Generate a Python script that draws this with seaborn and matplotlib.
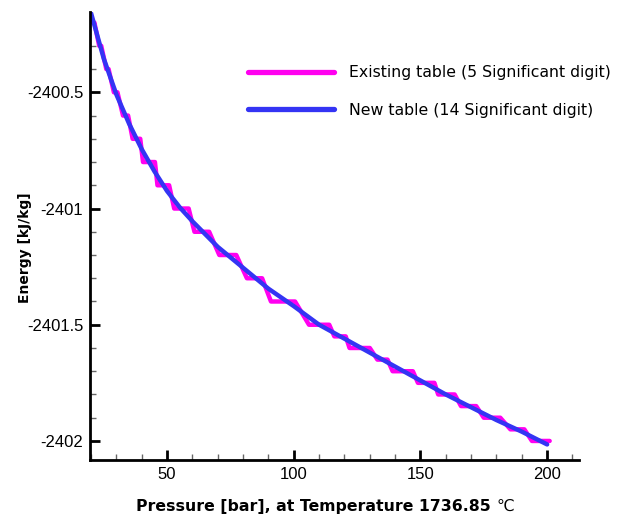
import matplotlib
matplotlib.use("Agg")
import matplotlib.pyplot as plt
from matplotlib.ticker import MultipleLocator, FixedLocator, FixedFormatter
import pandas as pd
import seaborn as sns

# New table (14 significant digits)
pressure_new = [20, 25, 30, 35, 40, 45, 50, 55, 60, 70, 80, 90, 100,
                110, 120, 130, 140, 150, 160, 170, 180, 190, 200]
energy_new = [-2400.16, -2400.355, -2400.51, -2400.635, -2400.745, -2400.84,
              -2400.925, -2400.995, -2401.055, -2401.165, -2401.255, -2401.345,
              -2401.42, -2401.50, -2401.56, -2401.62, -2401.68, -2401.74,
              -2401.80, -2401.855, -2401.91, -2401.96, -2402.015]

# Existing table (5 significant digits): each flat step and its pressure span
levels_old = [-2400.2, -2400.3, -2400.4, -2400.5, -2400.6, -2400.7, -2400.8,
              -2400.9, -2401.0, -2401.1, -2401.2, -2401.3, -2401.4, -2401.5,
              -2401.55, -2401.6, -2401.65, -2401.7, -2401.75, -2401.8,
              -2401.85, -2401.9, -2401.95, -2402.0]
step_start = [20.8, 23.2, 26.0, 29.0, 32.6, 36.4, 40.5, 46.2, 52.8, 60.8, 70.6,
              81.5, 91, 106, 116, 122, 133, 139, 149, 157, 166, 175, 185.5, 194]
step_end = [21.3, 24.0, 26.9, 30.4, 34.6, 39.4, 45.2, 50.8, 58.5, 66.6, 77.3,
            87.5, 100.5, 114, 120.5, 130, 137, 147, 155.5, 163.5, 172, 181.5, 191, 201]

x_major = [50, 100, 150, 200]
y_major = [-2402, -2401.5, -2401, -2400.5]
y_labels = ["-2402", "-2401.5", "-2401", "-2400.5"]

old_df = pd.DataFrame({
    "P": [p for s, e in zip(step_start, step_end) for p in (s, e)],
    "E": [l for l in levels_old for _ in range(2)],
})
new_df = pd.DataFrame({"P": pressure_new, "E": energy_new})

sns.set_theme(style="ticks")
plt.rcParams["font.family"] = ["DejaVu Sans"]
plt.rcParams["text.color"] = "black"

fig = plt.figure(figsize=(6.17, 5.16), dpi=100)
ax = fig.add_axes([0.146, 0.1085, 0.7925, 0.868])

sns.lineplot(data=old_df, x="P", y="E", ax=ax, color="#ff00f0", lw=3.2,
             sort=False, estimator=None, label="Existing table (5 Significant digit)")
sns.lineplot(data=new_df, x="P", y="E", ax=ax, color="#3434f4", lw=3.2,
             sort=False, estimator=None, label="New table (14 Significant digit)")

ax.set_xlim(19.6, 212.6)
ax.set_ylim(-2402.082, -2400.155)

ax.xaxis.set_major_locator(FixedLocator(x_major))
ax.xaxis.set_minor_locator(MultipleLocator(10))
ax.yaxis.set_major_locator(FixedLocator(y_major))
ax.yaxis.set_major_formatter(FixedFormatter(y_labels))
ax.yaxis.set_minor_locator(MultipleLocator(0.1))

ax.tick_params(which="both", direction="in", colors="black")
ax.tick_params(which="major", length=7.5, width=2)
ax.tick_params(which="minor", length=4.5, width=1, color="#666666")
ax.tick_params(axis="y", which="major", pad=5)
ax.tick_params(axis="x", which="major", pad=5)
for lab in ax.get_xticklabels() + ax.get_yticklabels():
    lab.set_fontfamily("Liberation Sans")
    lab.set_fontsize(12)

sns.despine(ax=ax)
for side in ["left", "bottom"]:
    ax.spines[side].set_linewidth(2)
    ax.spines[side].set_color("black")

ax.set_xlabel("Pressure [bar], at Temperature 1736.85", fontsize=11.3,
              fontweight="bold", color="black")
ax.xaxis.set_label_coords(0.457, -0.087)
ax.annotate("\u2103", xy=(1, 0), xycoords=ax.xaxis.label, xytext=(4, 0),
            textcoords="offset points", fontsize=11.3, va="bottom", color="black")
ax.set_ylabel("Energy [kJ/kg]", fontsize=10, fontweight="bold", color="black")
ax.yaxis.set_label_coords(-0.119, 0.475)

leg = ax.legend(loc="upper left", bbox_to_anchor=(0.402, 0.874),
                bbox_transform=fig.transFigure, frameon=False, fontsize=11.3,
                handlelength=5.5, handletextpad=0.95, labelspacing=1.45,
                borderpad=0, borderaxespad=0)
for line in leg.get_lines():
    line.set_linewidth(3.8)
for t in leg.get_texts():
    t.set_color("black")

fig.savefig("out.png", dpi=100)
